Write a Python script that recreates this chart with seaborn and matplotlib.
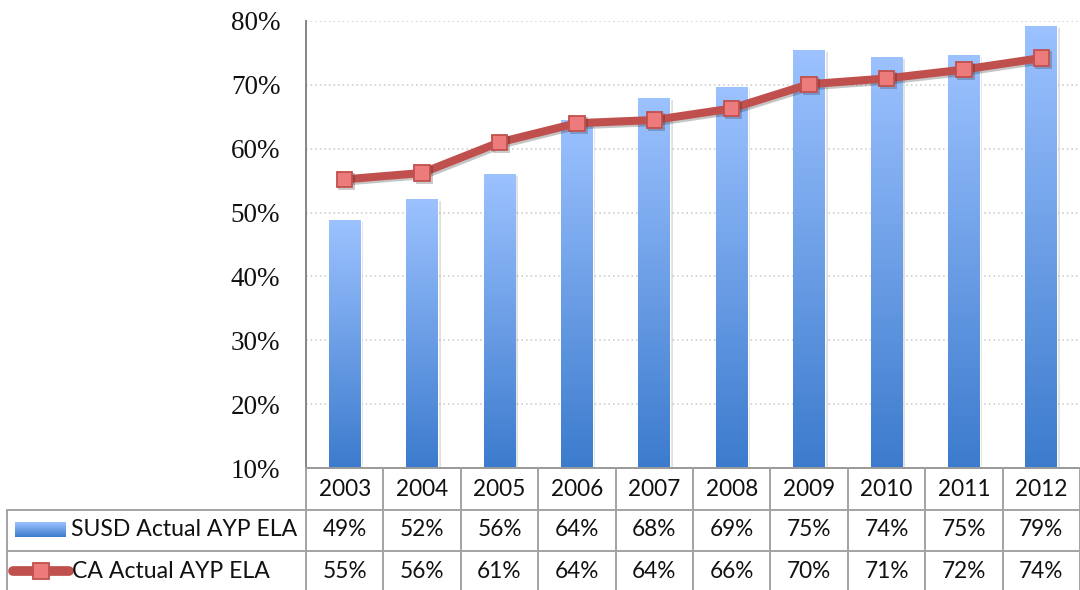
import numpy as np
import matplotlib
matplotlib.use("Agg")
import matplotlib.pyplot as plt
import matplotlib.transforms as mtransforms
import matplotlib.patheffects as pe
from matplotlib.lines import Line2D
from matplotlib.patches import Rectangle
from matplotlib.colors import LinearSegmentedColormap
import seaborn as sns

# ---- data ----
years = ["2003", "2004", "2005", "2006", "2007", "2008", "2009", "2010", "2011", "2012"]
susd = [48.8, 52.1, 56.0, 64.5, 67.9, 69.6, 75.4, 74.3, 74.6, 79.2]
ca = [55.2, 56.2, 61.0, 64.0, 64.5, 66.3, 70.1, 71.0, 72.4, 74.2]
susd_labels = ["49%", "52%", "56%", "64%", "68%", "69%", "75%", "74%", "75%", "79%"]
ca_labels = ["55%", "56%", "61%", "64%", "64%", "66%", "70%", "71%", "72%", "74%"]
series_names = ["SUSD Actual AYP ELA", "CA Actual AYP ELA"]
yticks = [10, 20, 30, 40, 50, 60, 70, 80]

sns.set_theme(style="white")
plt.rcParams["font.family"] = ["Lato", "DejaVu Sans"]

W, H = 1080, 590
fig = plt.figure(figsize=(W / 100, H / 100), dpi=100)

def fx(px):
    return px / W

def fy(py):
    return 1 - py / H

ax_left, ax_right, ax_top, ax_bot = 306, 1080, 21, 468
ax = fig.add_axes([fx(ax_left), fy(ax_bot), fx(ax_right - ax_left), (ax_bot - ax_top) / H])

# bars
sns.barplot(x=years, y=susd, ax=ax, width=0.41, color="#6A9BE6", saturation=1, zorder=2)
cmap = LinearSegmentedColormap.from_list("blu", ["#3C7BCD", "#9CC2FF"])
grad = np.linspace(0, 1, 256).reshape(-1, 1)
for bar in list(ax.patches):
    x0, y0 = bar.get_x(), bar.get_y()
    w, h = bar.get_width(), bar.get_height()
    # soft shadow
    sh = Rectangle((x0 + 0.035, y0), w, h - 0.3, facecolor="#000000", alpha=0.12,
                   edgecolor="none", zorder=1.5)
    ax.add_patch(sh)
    im = ax.imshow(grad, extent=[x0, x0 + w, 10, y0 + h], origin="lower",
                   cmap=cmap, aspect="auto", zorder=2.5)
    im.set_clip_path(bar)
    bar.set_facecolor("none")

# line
sns.pointplot(x=years, y=ca, ax=ax, color="#C0504D", markers="s", linestyles="-",
              linewidth=5.8, markersize=11, markerfacecolor="#EE7B7B",
              markeredgecolor="#C0504D", markeredgewidth=1.3, errorbar=None)
for ln in ax.lines:
    ln.set_zorder(5)
    ln.set_path_effects([pe.SimpleLineShadow(offset=(1.5, -1.5), alpha=0.25), pe.Normal()])

ax.set_ylim(10, 80)
ax.set_xlim(-0.5, 9.5)
ax.set_yticks(yticks)
ax.set_yticklabels([f"{v}%" for v in yticks], fontfamily="Liberation Serif", fontsize=19.5)
ax.tick_params(axis="y", length=0, pad=18.5, labelcolor="#111111")
ax.set_xticks([])
ax.set_xlabel("")
ax.set_ylabel("")
ax.yaxis.grid(True, color="#C8C8C8", linestyle=(0, (1, 2)), linewidth=1.1)
ax.set_axisbelow(True)
for s in ["top", "right"]:
    ax.spines[s].set_visible(False)
ax.spines["left"].set_color("#868686")
ax.spines["left"].set_linewidth(1.4)
ax.spines["bottom"].set_color("#999999")
ax.spines["bottom"].set_linewidth(1.4)

# ---- data table ----
bt = mtransforms.blended_transform_factory(ax.transData, fig.transFigure)
grid_col = "#A3A3A3"
# horizontal lines
fig.add_artist(Line2D([fx(7), 1], [fy(510), fy(510)], color=grid_col, lw=1.4))
fig.add_artist(Line2D([fx(7), 1], [fy(551), fy(551)], color=grid_col, lw=1.4))
# vertical lines
fig.add_artist(Line2D([fx(7), fx(7)], [fy(510), 0], color=grid_col, lw=1.4))
for i in range(len(years) + 1):
    xl = i - 0.5
    fig.add_artist(Line2D([xl, xl], [fy(468), 0], color=grid_col, lw=1.4, transform=bt))

txt_kw = dict(fontsize=16.3, color="#111111", ha="center", va="center", transform=bt)
for i, yr in enumerate(years):
    fig.text(i, fy(490), yr, **txt_kw)
    fig.text(i, fy(530), susd_labels[i], **txt_kw)
    fig.text(i, fy(571), ca_labels[i], **txt_kw)

fig.text(fx(71), fy(530), series_names[0], fontsize=16.6, color="#111111", ha="left", va="center")
fig.text(fx(72), fy(571), series_names[1], fontsize=16.6, color="#111111", ha="left", va="center")

# legend keys
kax = fig.add_axes([fx(15), fy(537), fx(51), 15 / H])
kax.imshow(grad, extent=[0, 1, 0, 1], origin="lower", cmap=cmap, aspect="auto")
kax.axis("off")
fig.add_artist(Line2D([fx(13), fx(69)], [fy(571), fy(571)], color="#C0504D", lw=7,
                      solid_capstyle="round"))
fig.add_artist(Line2D([fx(41)], [fy(571)], marker="s", markersize=11,
                      markerfacecolor="#EE7B7B", markeredgecolor="#C0504D", markeredgewidth=1.3))

fig.savefig("out.png", dpi=100)
